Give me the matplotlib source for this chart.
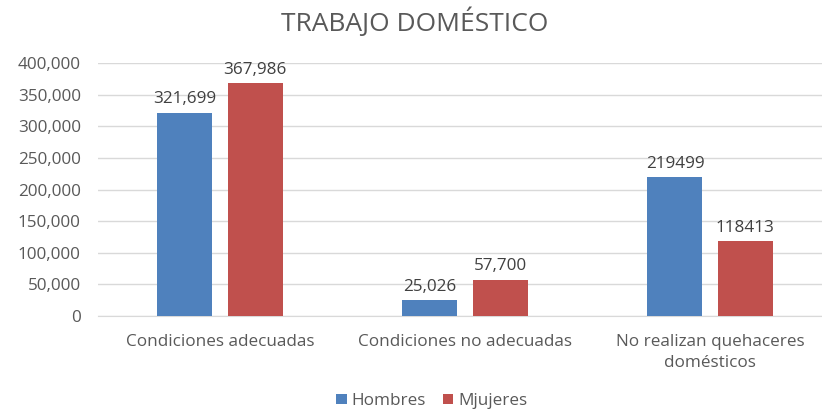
import matplotlib
matplotlib.use("Agg")
import matplotlib.pyplot as plt
import numpy as np

categories = ["Condiciones adecuadas", "Condiciones no adecuadas", "No realizan quehaceres\ndomésticos"]
hombres = [321699, 25026, 219499]
mujeres = [367986, 57700, 118413]
hombres_labels = ["321,699", "25,026", "219499"]
mujeres_labels = ["367,986", "57,700", "118413"]
series_names = ["Hombres", "Mjujeres"]
yticks = [0, 50000, 100000, 150000, 200000, 250000, 300000, 350000, 400000]
title = "TRABAJO DOMÉSTICO"

plt.rcParams['font.family'] = ['Open Sans', 'DejaVu Sans']
txt = "#595959"
blue = "#4F81BD"
red = "#C0504D"
fs = 12.3

fig = plt.figure(figsize=(8.22, 4.13), dpi=100)
left = 97.5 / 822
bottom = (413 - 316) / 413
top = (413 - 63) / 413
ax = fig.add_axes([left, bottom, 1.0 - left, top - bottom])

x = np.arange(len(categories))
w = 0.2245
off = 0.143
b1 = ax.bar(x - off, hombres, w, color=blue, label=series_names[0], zorder=3)
b2 = ax.bar(x + off, mujeres, w, color=red, label=series_names[1], zorder=3)

for rect, lab in zip(b1, hombres_labels):
    ax.annotate(lab, (rect.get_x() + rect.get_width() / 2, rect.get_height()),
                xytext=(0, 4), textcoords="offset points", ha="center", va="bottom",
                fontsize=fs, color="#404040")
for rect, lab in zip(b2, mujeres_labels):
    ax.annotate(lab, (rect.get_x() + rect.get_width() / 2, rect.get_height()),
                xytext=(0, 4), textcoords="offset points", ha="center", va="bottom",
                fontsize=fs, color="#404040")

ax.set_ylim(0, 400000)
ax.set_xlim(-0.5, 2.5 - 10.5 / 245)
ax.set_yticks(yticks)
ax.set_yticklabels([f"{v:,}" for v in yticks], fontsize=fs, color=txt)
ax.set_xticks(x)
ax.set_xticklabels(categories, fontsize=fs, color=txt, linespacing=1.45)
ax.tick_params(axis="y", length=0, pad=12)
ax.tick_params(axis="x", length=0, pad=13)
ax.yaxis.grid(True, color="#d9d9d9", linewidth=1, zorder=0)
for s in ["top", "right", "left"]:
    ax.spines[s].set_visible(False)
ax.spines["bottom"].set_color("#d9d9d9")

fig.text(415 / 822, 1 - 22 / 413, title, ha="center", va="center", fontsize=19, color=txt)

ax.legend(loc="center", bbox_to_anchor=(432 / 822, 1 - 401 / 413), bbox_transform=fig.transFigure,
          ncol=2, frameon=False, fontsize=fs, handlelength=0.6, handleheight=0.6,
          columnspacing=1.0, handletextpad=0.3, labelcolor=txt)

fig.savefig("out.png", dpi=100)
